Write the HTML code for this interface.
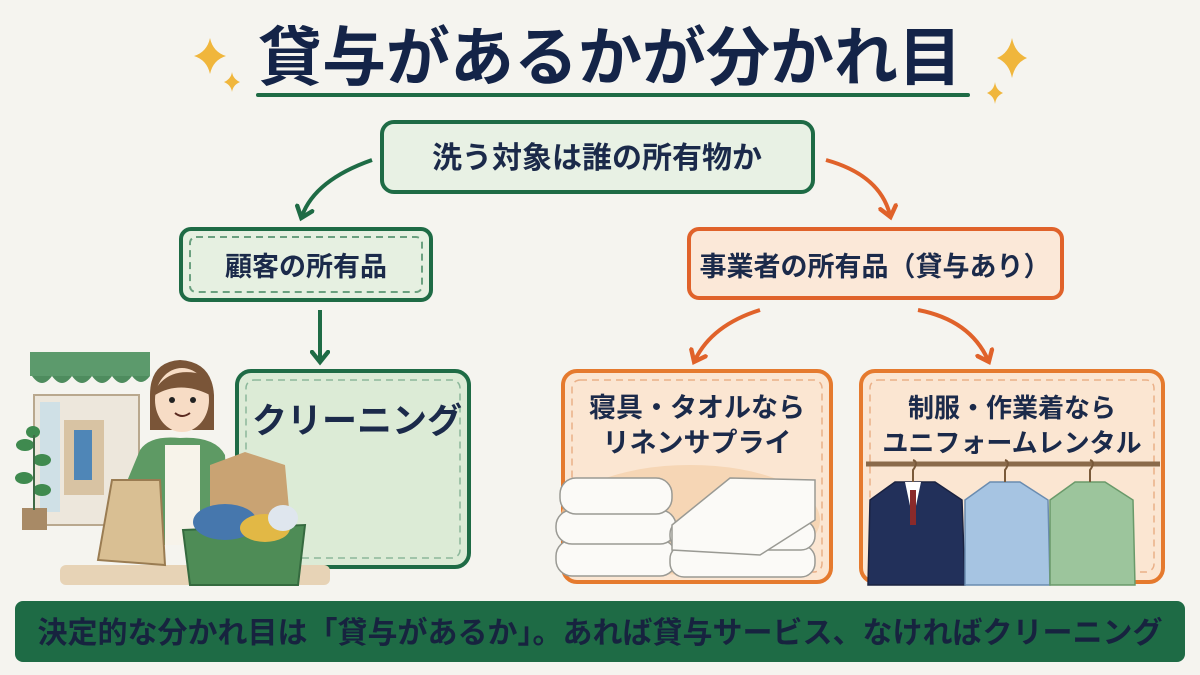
<!DOCTYPE html>
<html><head><meta charset="utf-8"><style>
html,body{margin:0;padding:0;background:#f5f4ef;}
svg{display:block;}
text{font-family:"Liberation Sans","Noto Sans CJK JP",sans-serif;font-weight:bold;fill:#1b2a4a;}
</style></head><body>
<svg width="1200" height="675" viewBox="0 0 1200 675" xmlns="http://www.w3.org/2000/svg">
<defs>
<marker id="ag" viewBox="0 0 10 10" refX="5" refY="5" markerWidth="5" markerHeight="5" orient="auto-start-reverse"><path d="M1,1 L6,5 L1,9" fill="none" stroke="#1e6b45" stroke-width="2.2" stroke-linecap="round"/></marker>
<marker id="ao" viewBox="0 0 10 10" refX="5" refY="5" markerWidth="5" markerHeight="5" orient="auto-start-reverse"><path d="M1,1 L6,5 L1,9" fill="none" stroke="#e0622a" stroke-width="2.2" stroke-linecap="round"/></marker>
</defs>
<rect width="1200" height="675" fill="#f5f4ef"/>
<!-- title -->
<text x="610" y="80" font-size="64" text-anchor="middle" style="fill:#142448">貸与があるかが分かれ目</text>
<line x1="258" y1="95" x2="968" y2="95" stroke="#1e6b45" stroke-width="4" stroke-linecap="round"/>
<g fill="#f0b63c">
<path d="M210,38 Q213,52 226,56 Q213,60 210,74 Q207,60 194,56 Q207,52 210,38Z"/>
<path d="M232,72 Q233,79 240,82 Q233,85 232,92 Q231,85 224,82 Q231,79 232,72Z"/>
<path d="M1012,38 Q1015,53 1027,58 Q1015,63 1012,78 Q1009,63 997,58 Q1009,53 1012,38Z"/>
<path d="M995,82 Q996,90 1003,93 Q996,96 995,104 Q994,96 987,93 Q994,90 995,82Z"/>
</g>
<!-- top box -->
<rect x="382" y="122" width="431" height="70" rx="12" fill="#e8f1e4" stroke="#1e6b45" stroke-width="4"/>
<text x="597" y="168" font-size="30" text-anchor="middle">洗う対象は誰の所有物か</text>
<!-- arrows -->
<path d="M372,160 Q315,180 302,216" fill="none" stroke="#1e6b45" stroke-width="4" marker-end="url(#ag)"/>
<path d="M826,160 Q880,175 890,215" fill="none" stroke="#e0622a" stroke-width="4" marker-end="url(#ao)"/>
<!-- left box -->
<rect x="181" y="229" width="250" height="71" rx="10" fill="#e6f0e1" stroke="#1e6b45" stroke-width="4"/>
<rect x="190" y="237" width="232" height="55" rx="6" fill="none" stroke="#6aa07f" stroke-width="2" stroke-dasharray="7 5"/>
<text x="306" y="276" font-size="27" text-anchor="middle">顧客の所有品</text>
<!-- right box -->
<rect x="689" y="229" width="373" height="69" rx="10" fill="#fbe8d8" stroke="#e0622a" stroke-width="4"/>
<text x="875" y="276" font-size="27" text-anchor="middle">事業者の所有品（貸与あり）</text>
<path d="M320,310 L320,360" fill="none" stroke="#1e6b45" stroke-width="4" marker-end="url(#ag)"/>
<path d="M760,310 Q712,325 695,360" fill="none" stroke="#e0622a" stroke-width="4" marker-end="url(#ao)"/>
<path d="M918,310 Q970,320 988,360" fill="none" stroke="#e0622a" stroke-width="4" marker-end="url(#ao)"/>
<!-- cleaning box -->
<rect x="237" y="371" width="232" height="196" rx="14" fill="#dcebd6" stroke="#1e6b45" stroke-width="4"/>
<rect x="246" y="380" width="214" height="178" rx="8" fill="none" stroke="#8bb79a" stroke-width="1.5" stroke-dasharray="7 5"/>
<text x="357" y="433" font-size="35" text-anchor="middle">クリーニング</text>
<!-- shop -->
<rect x="30" y="352" width="120" height="24" fill="#5c9a6c"/>
<path d="M32,376 q10,14 20,0 q10,14 20,0 q10,14 20,0 q10,14 20,0 q10,14 20,0 q9,12 18,0Z" fill="#4e8c5e"/>
<rect x="34" y="395" width="105" height="130" fill="#ede7dc" stroke="#b9a88e" stroke-width="2"/>
<rect x="40" y="402" width="20" height="110" fill="#cfe0e6"/>
<rect x="64" y="420" width="40" height="75" fill="#d8c3a3"/>
<rect x="74" y="430" width="18" height="50" fill="#4f86b7"/>
<!-- plant -->
<rect x="22" y="508" width="25" height="22" fill="#a88a66"/>
<g fill="#3f8a4f"><ellipse cx="25" cy="445" rx="9" ry="6"/><ellipse cx="42" cy="460" rx="9" ry="6"/><ellipse cx="24" cy="478" rx="9" ry="6"/><ellipse cx="42" cy="490" rx="9" ry="6"/><ellipse cx="33" cy="432" rx="7" ry="6"/></g>
<line x1="34" y1="435" x2="34" y2="510" stroke="#3f6a45" stroke-width="2"/>
<!-- woman -->
<rect x="60" y="565" width="270" height="20" rx="6" fill="#e7d3b6"/>
<path d="M150,395 Q150,362 180,360 Q212,362 214,395 L214,430 L150,430Z" fill="#7a5538"/>
<ellipse cx="182" cy="400" rx="27" ry="32" fill="#f7dcc5"/>
<path d="M155,390 Q170,365 205,375 Q210,385 210,395 Q180,380 155,395Z" fill="#7a5538"/>
<circle cx="172" cy="400" r="3" fill="#222"/><circle cx="193" cy="400" r="3" fill="#222"/>
<path d="M175,413 Q182,419 190,413" stroke="#5a2a20" stroke-width="2" fill="none"/>
<path d="M140,450 Q150,435 180,438 Q215,436 225,455 L230,545 L120,545 L115,510Z" fill="#5e9a64"/>
<rect x="165" y="445" width="35" height="100" fill="#f7f3ea"/>
<path d="M98,560 L112,480 L160,480 L165,565Z" fill="#d9bf93" stroke="#9a7c52" stroke-width="2"/>
<path d="M210,465 L245,452 L285,465 L290,520 L210,520Z" fill="#c9a373"/>
<path d="M183,530 L305,525 L298,585 L190,585Z" fill="#4e8c56" stroke="#356a3f" stroke-width="2"/>
<ellipse cx="225" cy="522" rx="32" ry="18" fill="#4677ad"/>
<ellipse cx="265" cy="528" rx="25" ry="14" fill="#e2b845"/>
<ellipse cx="283" cy="518" rx="15" ry="13" fill="#dfe6ee"/>
<!-- linen box -->
<rect x="563" y="371" width="268" height="211" rx="14" fill="#fbe6d2" stroke="#e57a2e" stroke-width="4"/>
<rect x="572" y="380" width="250" height="192" rx="8" fill="none" stroke="#eab088" stroke-width="1.5" stroke-dasharray="7 5"/>
<text x="697" y="417" font-size="27" text-anchor="middle">寝具・タオルなら</text>
<text x="697" y="452" font-size="27" text-anchor="middle">リネンサプライ</text>
<ellipse cx="690" cy="520" rx="130" ry="55" fill="#f4cfa8" opacity="0.7"/>
<g fill="#fbfaf7" stroke="#9a9a94" stroke-width="1.5">
<rect x="556" y="540" width="120" height="36" rx="16"/>
<rect x="556" y="510" width="120" height="34" rx="16"/>
<rect x="560" y="478" width="112" height="36" rx="16"/>
<rect x="670" y="545" width="145" height="32" rx="14"/>
<rect x="670" y="520" width="145" height="30" rx="14"/>
<path d="M672,525 L730,478 L815,480 L815,520 L760,555 L672,550Z"/>
</g>
<!-- uniform box -->
<rect x="861" y="371" width="302" height="211" rx="14" fill="#fbe6d2" stroke="#e57a2e" stroke-width="4"/>
<rect x="870" y="380" width="284" height="192" rx="8" fill="none" stroke="#eab088" stroke-width="1.5" stroke-dasharray="7 5"/>
<text x="1012" y="417" font-size="26" text-anchor="middle">制服・作業着なら</text>
<text x="1012" y="452" font-size="26" text-anchor="middle">ユニフォームレンタル</text>
<line x1="866" y1="464" x2="1160" y2="464" stroke="#8a6a4a" stroke-width="5"/>
<path d="M870,500 L895,482 L935,482 L962,500 L965,585 L868,585Z" fill="#22305a" stroke="#1a2240" stroke-width="1.5"/>
<path d="M905,482 L913,520 L921,482Z" fill="#fff"/><rect x="910" y="490" width="6" height="35" fill="#8a2a2a"/>
<path d="M965,500 L990,482 L1020,482 L1048,500 L1050,585 L965,585Z" fill="#a6c4e2" stroke="#6a8cb0" stroke-width="1.5"/>
<path d="M1050,500 L1075,482 L1105,482 L1133,500 L1135,585 L1050,585Z" fill="#9cc59c" stroke="#6a9a6a" stroke-width="1.5"/>
<g stroke="#7a5a3a" stroke-width="2" fill="none">
<path d="M913,482 L913,470 q6,-8 0,-10"/><path d="M1005,482 L1005,470 q6,-8 0,-10"/><path d="M1090,482 L1090,470 q6,-8 0,-10"/></g>
<!-- bottom -->
<rect x="15" y="601" width="1170" height="61" rx="8" fill="#1e6b45"/>
<text x="600" y="643" font-size="30" text-anchor="middle" style="fill:#17233f">決定的な分かれ目は「貸与があるか」。あれば貸与サービス、なければクリーニング</text>
</svg>
</body></html>
